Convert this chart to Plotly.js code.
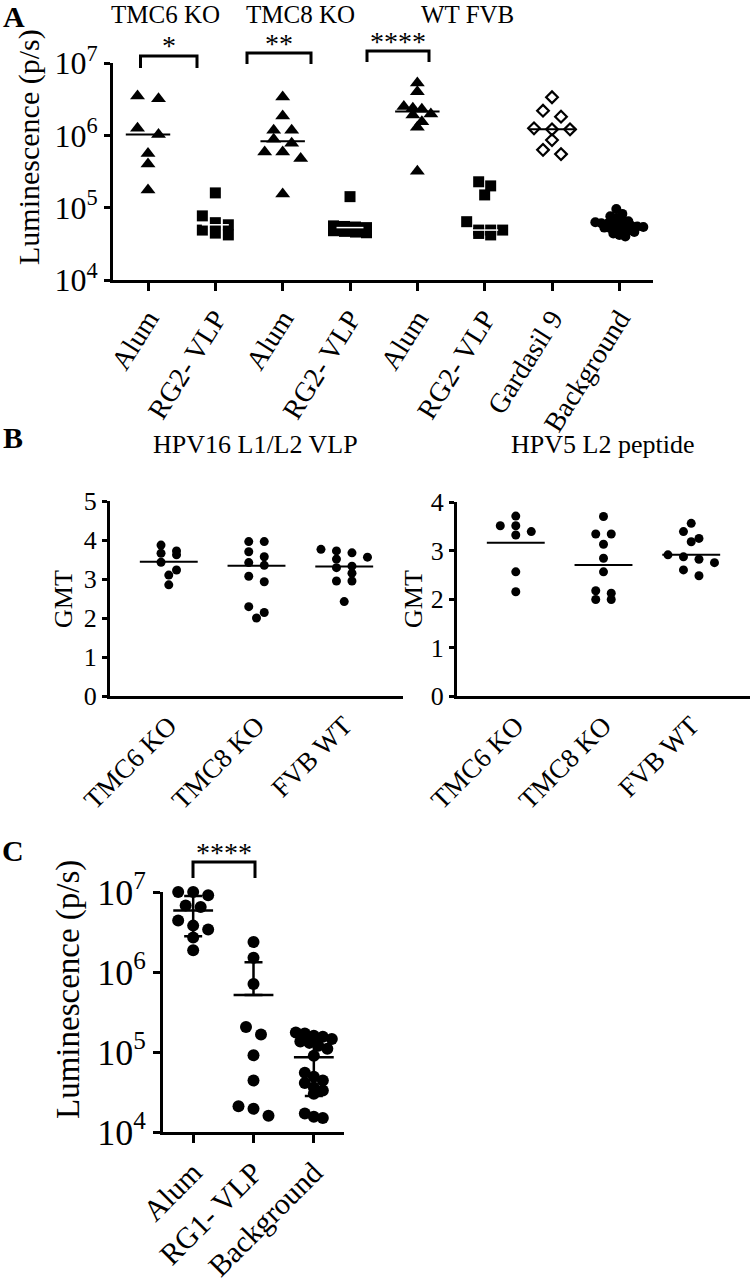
<!DOCTYPE html>
<html>
<head>
<meta charset="utf-8">
<script src="https://cdn.plot.ly/plotly-3.0.1.min.js"></script>
<style>
  html, body { margin: 0; padding: 0; background: #fff; }
  #chart { width: 750px; height: 1288px; }
</style>
</head>
<body>
<div id="chart"></div>
<script>
// ---- panel A : luminescence (p/s), one array per group
const aLabels = ['Alum', 'RG2- VLP', 'Alum', 'RG2- VLP', 'Alum', 'RG2- VLP', 'Gardasil 9', 'Background'];
const tmc6Alum = [3.5e6, 3.2e6, 1.25e6, 1.03e6, 5.6e5, 4.0e5, 1.75e5];
const tmc6Rg2 = [1.6e5, 7.7e4, 6.2e4, 5.8e4, 4.9e4, 4.45e4, 4.2e4];
const tmc8Alum = [3.4e6, 1.85e6, 1.18e6, 1.18e6, 8.8e5, 7.8e5, 5.9e5, 5.9e5, 4.8e5, 1.55e5];
const tmc8Rg2 = [1.42e5, 5.6e4, 5.5e4, 5.4e4, 5.3e4, 4.8e4, 4.7e4, 4.6e4, 4.5e4];
const wtAlum = [5.3e6, 4.0e6, 2.5e6, 2.36e6, 2.29e6, 1.97e6, 1.91e6, 1.54e6, 1.29e6, 3.2e5];
const wtRg2 = [2.28e5, 2.0e5, 1.5e5, 6.4e4, 4.9e4, 4.9e4, 4.9e4, 4.4e4, 4.2e4];
const gardasil9 = [3.36e6, 2.19e6, 1.81e6, 1.25e6, 1.21e6, 1.21e6, 8.6e5, 6.3e5, 5.5e5];
const backgroundA = [9.6e4, 8.2e4, 7.6e4, 7.2e4, 6.8e4, 6.5e4, 6.3e4, 6.1e4, 6.0e4, 5.9e4, 5.8e4, 5.7e4,
  5.6e4, 5.5e4, 5.4e4, 5.3e4, 5.2e4, 5.1e4, 5.0e4, 4.8e4, 4.6e4, 4.4e4, 4.2e4, 4.0e4];
const strainLabels = ['TMC6 KO', 'TMC8 KO', 'WT FVB'];
const sigA = ['*', '**', '****'];

// ---- panel B : GMT
const bLabels = ['TMC6 KO', 'TMC8 KO', 'FVB WT'];
const vlpTmc6 = [3.87, 3.72, 3.66, 3.62, 3.43, 3.23, 3.10, 2.85];
const vlpTmc8 = [3.96, 3.96, 3.70, 3.57, 3.42, 3.35, 3.07, 2.93, 2.29, 2.14, 2.00];
const vlpFvb = [3.76, 3.72, 3.67, 3.56, 3.51, 3.33, 3.29, 3.15, 2.95, 2.95, 2.42];
const vlpGmt = [3.44, 3.34, 3.32];
const pepTmc6 = [3.71, 3.51, 3.51, 3.39, 3.32, 2.56, 2.15];
const pepTmc8 = [3.70, 3.34, 3.34, 3.13, 2.84, 2.56, 2.17, 2.12, 1.99, 1.99];
const pepFvb = [3.56, 3.39, 3.25, 3.18, 2.91, 2.87, 2.82, 2.75, 2.60, 2.48];
const pepGmt = [3.16, 2.70, 2.91];

// ---- panel C : luminescence (p/s)
const cLabels = ['Alum', 'RG1- VLP', 'Background'];
const cAlum = [1.0e7, 1.0e7, 9.1e6, 6.8e6, 6.5e6, 4.4e6, 3.8e6, 3.4e6, 2.7e6, 1.87e6];
const cRg1 = [2.37e6, 1.51e6, 7.1e5, 2.05e5, 1.66e5, 9.1e4, 4.4e4, 2.1e4, 1.95e4, 1.6e4];
const cBackground = [1.75e5, 1.7e5, 1.6e5, 1.55e5, 1.45e5, 1.35e5, 1.3e5, 1.2e5, 1.1e5, 9.0e4,
  5.5e4, 4.9e4, 4.4e4, 4.1e4, 3.6e4, 3.3e4, 3.0e4, 1.7e4, 1.55e4, 1.5e4];
const sigC = ['****'];

const logTicks = [1e4, 1e5, 1e6, 1e7];
const logTickText = ['10<sup>4</sup>', '10<sup>5</sup>', '10<sup>6</sup>', '10<sup>7</sup>'];

const W = 750, H = 1288;
const SERIF = 'Liberation Serif, Times New Roman, serif';

// pixel boxes of the four plot areas [left, right, top, bottom]
const boxA = [113, 653, 63, 280];
const boxB1 = [110, 403, 501, 696];
const boxB2 = [457, 750, 502, 696];
const boxC = [163, 344, 892, 1132];

const px = x => x / W;
const py = y => 1 - y / H;

// GraphPad-like scatter: points that fall in the same row are spread side by side
function swarm(vals, toPx, rowPx, stepCat) {
  const idx = vals.map((v, i) => i).sort((a, b) => vals[b] - vals[a]);
  const off = new Array(vals.length).fill(0);
  let row = [];
  const flush = () => {
    row.forEach((i, k) => { off[i] = (k - (row.length - 1) / 2) * stepCat; });
    row = [];
  };
  idx.forEach(i => {
    if (row.length && toPx(vals[i]) - toPx(vals[row[0]]) > rowPx) flush();
    row.push(i);
  });
  flush();
  return off;
}

function dots(vals, cat, axes, marker, toPx, rowPx, stepCat) {
  const off = swarm(vals, toPx, rowPx, stepCat);
  return {
    type: 'scatter', mode: 'markers', x: vals.map((v, i) => cat + off[i]), y: vals,
    xaxis: axes[0], yaxis: axes[1], marker: marker, cliponaxis: false, hoverinfo: 'skip'
  };
}

function hlines(cats, vals, half, axes, color, width) {
  const x = [], y = [];
  cats.forEach((c, i) => { x.push(c - half, c + half, null); y.push(vals[i], vals[i], null); });
  return {
    type: 'scatter', mode: 'lines', x: x, y: y, xaxis: axes[0], yaxis: axes[1],
    line: { color: color, width: width }, cliponaxis: false, hoverinfo: 'skip'
  };
}

const median = a => {
  const s = a.slice().sort((p, q) => p - q), m = s.length >> 1;
  return s.length % 2 ? s[m] : (s[m - 1] + s[m]) / 2;
};
const mean = a => a.reduce((s, v) => s + v, 0) / a.length;
const sd = a => { const m = mean(a); return Math.sqrt(a.reduce((s, v) => s + (v - m) * (v - m), 0) / (a.length - 1)); };

const traces = [];

// panel A
const aRange = [-0.52, 7.5];
const aCat = (boxA[1] - boxA[0]) / (aRange[1] - aRange[0]);
const aDec = (boxA[3] - boxA[2]) / 3;
const aPx = v => -Math.log10(v) * aDec;
const tri = { symbol: 'triangle-up', size: 13, color: '#000' };
const sq = { symbol: 'square', size: 11, color: '#000' };
const dia = { symbol: 'diamond-open', size: 9, color: '#000', line: { width: 2.2, color: '#000' } };
const circA = { symbol: 'circle', size: 10, color: '#000' };
const aGroups = [tmc6Alum, tmc6Rg2, tmc8Alum, tmc8Rg2, wtAlum, wtRg2, gardasil9, backgroundA];
const aMarks = [tri, sq, tri, sq, tri, sq, dia, circA];
const aStep = [21, 13, 18, 11, 9, 12, 18, 6];
const aRow = [10, 10, 9, 4, 8, 10, 9, 5];
aGroups.forEach((g, i) => traces.push(dots(g, i, ['x', 'y'], aMarks[i], aPx, aRow[i], aStep[i] / aCat)));
const aMed = aGroups.map(median);
traces.push(hlines([0, 2, 4, 6], [aMed[0], aMed[2], aMed[4], aMed[6]], 0.33, ['x', 'y'], '#000', 2));
traces.push(hlines([1, 3, 5], [aMed[1], aMed[3], aMed[5]], 0.2, ['x', 'y'], '#fff', 1.5));

// panel B
const bRange = [-0.67, 2.67];
const b1Cat = (boxB1[1] - boxB1[0]) / (bRange[1] - bRange[0]);
const b1Px = v => -v * (boxB1[3] - boxB1[2]) / 5;
const b2Px = v => -v * (boxB2[3] - boxB2[2]) / 4;
const dotB = { symbol: 'circle', size: 9, color: '#000' };
[vlpTmc6, vlpTmc8, vlpFvb].forEach((g, i) => traces.push(dots(g, i, ['x2', 'y2'], dotB, b1Px, 8, 15.5 / b1Cat)));
traces.push(hlines([0, 1, 2], vlpGmt, 0.33, ['x2', 'y2'], '#000', 2));
[pepTmc6, pepTmc8, pepFvb].forEach((g, i) => traces.push(dots(g, i, ['x3', 'y3'], dotB, b2Px, 8, 15.5 / b1Cat)));
traces.push(hlines([0, 1, 2], pepGmt, 0.33, ['x3', 'y3'], '#000', 2));

// panel C
const cRange = [-0.5, 2.5];
const cCat = (boxC[1] - boxC[0]) / (cRange[1] - cRange[0]);
const cDec = (boxC[3] - boxC[2]) / 3;
const cPx = v => -Math.log10(v) * cDec;
const dotC = { symbol: 'circle', size: 12, color: '#000' };
const cGroups = [cAlum, cRg1, cBackground];
const cStep = [15, 15, 9];
const cRow = [10, 10, 8];
cGroups.forEach((g, i) => traces.push(dots(g, i, ['x4', 'y4'], dotC, cPx, cRow[i], cStep[i] / cCat)));
const cMean = cGroups.map(mean);
const cSd = cGroups.map(sd);
traces.push(hlines([0, 1, 2], cMean, 0.33, ['x4', 'y4'], '#000', 2.5));
traces.push({
  type: 'scatter', mode: 'markers', x: [0, 1, 2], y: cMean, xaxis: 'x4', yaxis: 'y4',
  marker: { size: 1, opacity: 0 }, cliponaxis: false, hoverinfo: 'skip',
  error_y: {
    type: 'data', symmetric: false, array: cSd,
    arrayminus: cMean.map((m, i) => (m - cSd[i] > 0 ? cSd[i] : 0)),
    color: '#000', thickness: 2.5, width: 9
  }
});

// axes
const tickFont = s => ({ family: SERIF, size: s, color: '#000' });
const axisBase = {
  showgrid: false, zeroline: false, showline: true, linecolor: '#000', linewidth: 3,
  ticks: 'outside', tickcolor: '#000', tickwidth: 3, fixedrange: true
};
const xDom = b => [px(b[0]), px(b[1])];
const yDom = b => [py(b[3]), py(b[2])];

const layout = {
  width: W, height: H, margin: { l: 0, r: 0, t: 0, b: 0 },
  paper_bgcolor: '#fff', plot_bgcolor: 'rgba(0,0,0,0)', showlegend: false,
  font: { family: SERIF, color: '#000' },
  xaxis: Object.assign({}, axisBase, {
    domain: xDom(boxA), anchor: 'y', range: aRange, tickmode: 'array',
    tickvals: aLabels.map((t, i) => i), ticktext: aLabels, tickangle: -58, ticklen: 8,
    tickfont: tickFont(28)
  }),
  yaxis: Object.assign({}, axisBase, {
    domain: yDom(boxA), anchor: 'x', type: 'log', range: [4, 7], tickmode: 'array',
    tickvals: logTicks, ticktext: logTickText, ticklen: 6, tickfont: tickFont(32)
  }),
  xaxis2: Object.assign({}, axisBase, {
    domain: xDom(boxB1), anchor: 'y2', range: bRange, tickmode: 'array', ticks: '',
    tickvals: [0, 1, 2], ticktext: bLabels, tickangle: -45, tickfont: tickFont(27)
  }),
  yaxis2: Object.assign({}, axisBase, {
    domain: yDom(boxB1), anchor: 'x2', range: [0, 5], dtick: 1, ticklen: 5, tickfont: tickFont(26)
  }),
  xaxis3: Object.assign({}, axisBase, {
    domain: xDom(boxB2), anchor: 'y3', range: bRange, tickmode: 'array', ticks: '',
    tickvals: [0, 1, 2], ticktext: bLabels, tickangle: -45, tickfont: tickFont(27)
  }),
  yaxis3: Object.assign({}, axisBase, {
    domain: yDom(boxB2), anchor: 'x3', range: [0, 4], dtick: 1, ticklen: 5, tickfont: tickFont(26)
  }),
  xaxis4: Object.assign({}, axisBase, {
    domain: xDom(boxC), anchor: 'y4', range: cRange, tickmode: 'array',
    tickvals: [0, 1, 2], ticktext: cLabels, tickangle: -45, ticklen: 8, tickfont: tickFont(30)
  }),
  yaxis4: Object.assign({}, axisBase, {
    domain: yDom(boxC), anchor: 'x4', type: 'log', range: [4, 7], tickmode: 'array',
    tickvals: logTicks, ticktext: logTickText, ticklen: 7, tickfont: tickFont(36)
  }),
  annotations: [],
  shapes: []
};

const note = (text, x, y, size, extra) => Object.assign({
  text: text, x: px(x), y: py(y), xref: 'paper', yref: 'paper', showarrow: false,
  xanchor: 'center', yanchor: 'middle', font: { family: SERIF, size: size, color: '#000' }
}, extra || {});

layout.annotations.push(
  note('<b>A</b>', 14, 16, 30),
  note('<b>B</b>', 13, 437, 30),
  note('<b>C</b>', 13, 850, 30),
  note(strainLabels[0], 165, 14, 25),
  note(strainLabels[1], 300, 14, 25),
  note(strainLabels[2], 467, 14, 25),
  note('Luminescence (p/s)', 29, 147, 30, { textangle: -90 }),
  note('Luminescence (p/s)', 68, 990, 33, { textangle: -90 }),
  note('GMT', 63, 599, 26, { textangle: -90 }),
  note('GMT', 413, 599, 26, { textangle: -90 }),
  note('HPV16 L1/L2 VLP', 255, 444, 26),
  note('HPV5 L2 peptide', 602, 444, 26)
);

// significance brackets [x0, x1, top, legBottom] in pixels
const bracketsA = [[140.5, 197, 56, 68], [247, 311, 53, 64], [367, 429, 51, 62]];
bracketsA.forEach((b, i) => {
  layout.shapes.push({
    type: 'path', xref: 'paper', yref: 'paper', line: { color: '#000', width: 3 },
    path: `M${px(b[0])},${py(b[3])} L${px(b[0])},${py(b[2])} L${px(b[1])},${py(b[2])} L${px(b[1])},${py(b[3])}`
  });
  layout.annotations.push(note(sigA[i], (b[0] + b[1]) / 2, b[2] - 10, 28));
});
const bracketC = [193, 255, 862, 878];
layout.shapes.push({
  type: 'path', xref: 'paper', yref: 'paper', line: { color: '#000', width: 3 },
  path: `M${px(bracketC[0])},${py(bracketC[3])} L${px(bracketC[0])},${py(bracketC[2])} L${px(bracketC[1])},${py(bracketC[2])} L${px(bracketC[1])},${py(bracketC[3])}`
});
layout.annotations.push(note(sigC[0], (bracketC[0] + bracketC[1]) / 2, bracketC[2] - 10, 28));

Plotly.newPlot('chart', traces, layout, { staticPlot: true });
</script>
</body>
</html>
